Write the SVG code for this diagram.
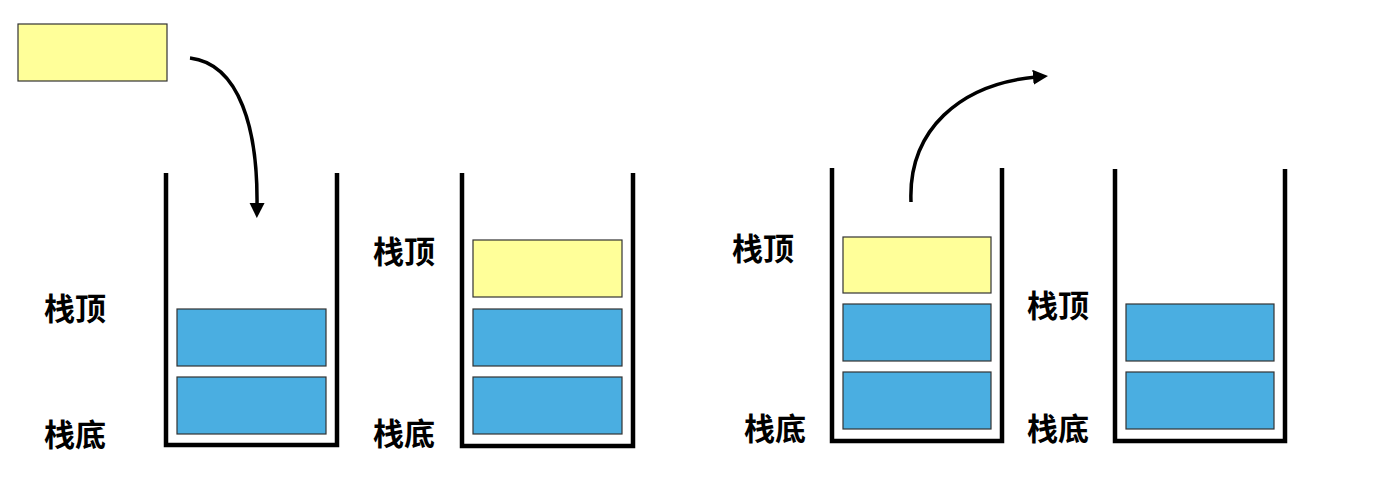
<svg xmlns="http://www.w3.org/2000/svg" width="1392" height="490" viewBox="0 0 1392 490">
<style>
.wall{fill:none;stroke:#000;stroke-width:4.5;stroke-linejoin:miter}
.y{fill:#FFFF99;stroke:#333;stroke-width:1.2}
.b{fill:#4AAEE1;stroke:#333;stroke-width:1.2}
.lbl{font-family:"Noto Sans CJK SC",sans-serif;font-size:31px;font-weight:bold;fill:#000;dominant-baseline:central}
.arr{fill:none;stroke:#000;stroke-width:3.5;marker-end:url(#ah)}
</style>
<defs>
<marker id="ah" viewBox="0 0 10 10" refX="2" refY="5" markerWidth="4.3" markerHeight="4.3" orient="auto" markerUnits="strokeWidth">
<path d="M0,0 L10,5 L0,10 z" fill="#000"/>
</marker>
</defs>
<rect width="1392" height="490" fill="#fff"/>
<g id="incoming">
<rect class="y" x="18" y="24" width="149" height="57"/>
</g>
<g id="stack1">
<path class="wall" d="M166,173 V445 H337 V173"/>
<rect class="b" x="177" y="309" width="149" height="57"/>
<rect class="b" x="177" y="377" width="149" height="57"/>
<text class="lbl" x="44" y="306">栈顶</text>
<text class="lbl" x="44" y="432">栈底</text>
</g>
<g id="stack2">
<path class="wall" d="M462,173 V446 H633 V173"/>
<rect class="y" x="473" y="240" width="149" height="57"/>
<rect class="b" x="473" y="309" width="149" height="57"/>
<rect class="b" x="473" y="377" width="149" height="57"/>
<text class="lbl" x="373" y="249">栈顶</text>
<text class="lbl" x="373" y="431">栈底</text>
</g>
<g id="stack3">
<path class="wall" d="M832,168 V441 H1002 V168"/>
<rect class="y" x="843" y="237" width="148" height="56"/>
<rect class="b" x="843" y="304" width="148" height="57"/>
<rect class="b" x="843" y="372" width="148" height="57"/>
<text class="lbl" x="732" y="246">栈顶</text>
<text class="lbl" x="744" y="426">栈底</text>
</g>
<g id="stack4">
<path class="wall" d="M1115,169 V441 H1285 V169"/>
<rect class="b" x="1126" y="304" width="148" height="57"/>
<rect class="b" x="1126" y="372" width="148" height="57"/>
<text class="lbl" x="1027" y="303">栈顶</text>
<text class="lbl" x="1027" y="426">栈底</text>
</g>
<g id="connectors">
<path class="arr" d="M190,58 C240,64 258,130 257,206"/>
<path class="arr" d="M911,202 C908,130 960,84 1036,77"/>
</g>
</svg>
